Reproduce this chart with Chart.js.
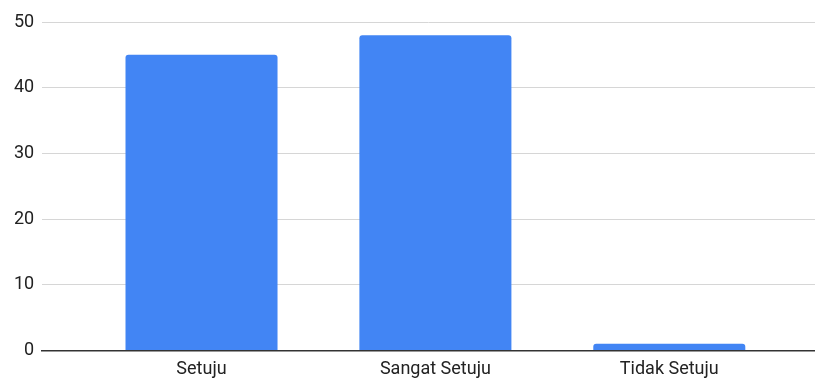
<!DOCTYPE html>
<html><head><meta charset="utf-8">
<script src="https://cdn.jsdelivr.net/npm/chart.js@4"></script>
<style>html,body{margin:0;padding:0;background:#fff}#wrap{width:815px;height:378px}</style>
</head><body><div id="wrap"><canvas id="c"></canvas></div>
<script>
const categories = ["Setuju", "Sangat Setuju", "Tidak Setuju"];
const values = [45, 48, 1];
const yTicks = [0, 10, 20, 30, 40, 50];

const ctx = document.getElementById('c');
new Chart(ctx, {
  type: 'bar',
  data: {
    datasets: [{
      data: values.map((v, i) => ({x: i, y: v})),
      backgroundColor: '#4285F4',
      borderRadius: {topLeft: 3, topRight: 3, bottomLeft: 0, bottomRight: 0},
      borderSkipped: 'bottom',
      barPercentage: 0.65,
      categoryPercentage: 1
    }]
  },
  options: {
    responsive: true,
    maintainAspectRatio: false,
    animation: false,
    layout: {padding: {top: 22, left: 6, right: 0, bottom: -10}},
    plugins: {legend: {display: false}, tooltip: {enabled: false}},
    scales: {
      x: {
        type: 'linear',
        offset: false,
        min: -0.681,
        max: 2.623,
        afterBuildTicks: (s) => { s.ticks = categories.map((c, i) => ({value: i})); },
        ticks: {
          callback: (v) => categories[v] ?? '',
          font: {family: 'Roboto', size: 18},
          color: '#222',
          padding: 8,
          maxRotation: 0
        },
        grid: {display: false, drawTicks: false},
        border: {display: true, color: '#333', width: 1.5}
      },
      y: {
        min: 0, max: 50,
        afterBuildTicks: (s) => { s.ticks = yTicks.map(v => ({value: v})); },
        ticks: {
          font: {family: 'Roboto', size: 18},
          color: '#222',
          padding: 8
        },
        grid: {color: '#d6d6d6', drawTicks: false, lineWidth: 1},
        border: {display: false}
      }
    }
  }
});
</script></body></html>
